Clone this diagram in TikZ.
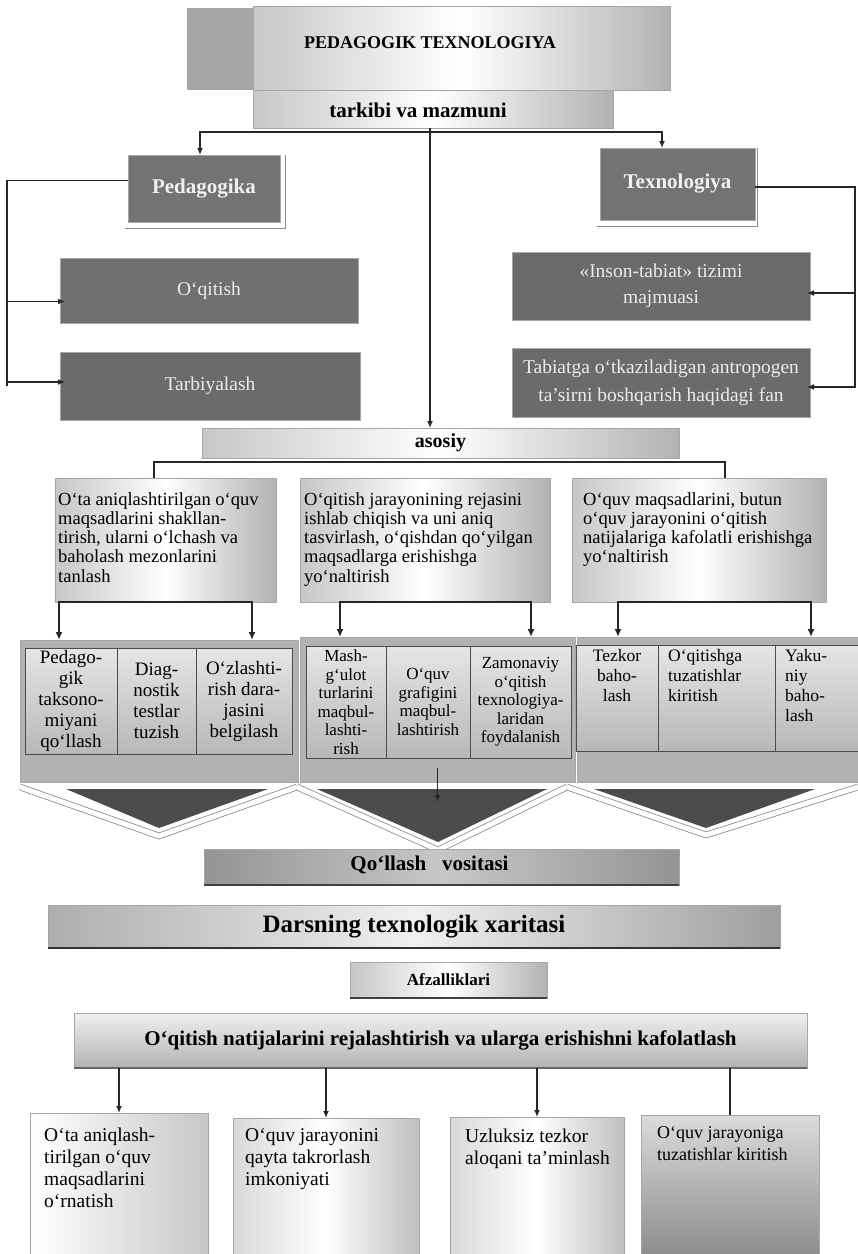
\documentclass[tikz,border=0pt]{standalone}
\usepackage{fontspec}
\setmainfont{Liberation Serif}
\usetikzlibrary{arrows.meta}
\newcommand{\fsz}[2]{\fontsize{#1}{#2}\selectfont}

\begin{document}
\begin{tikzpicture}[x=1pt,y=-1pt,
    box/.style={inner sep=0pt, outer sep=0pt, draw=black!35},
    hshade/.style={left color=black!22, right color=black!30, middle color=white},
    darkbox/.style={box, fill=black!55, text=black!6, font=\bfseries\fsz{21}{24}},
    greybox/.style={box, fill=black!58, text=black!8, align=center, font=\fsz{19.5}{26}},
    txt/.style={anchor=north west, inner sep=0pt, align=left},
    link/.style={draw=black!85, line width=1.5pt},
    arr/.style={link, -{Latex[length=7pt,width=6pt]}},
    arrtwo/.style={link, line width=1.8pt, {Latex[length=8pt,width=7pt]}-{Latex[length=8pt,width=7pt]}},
    cell/.style={draw=black!70, line width=1pt, top color=black!10, bottom color=black!28, inner sep=0pt, align=center},
    grp/.style={box, fill=black!30},
    vband/.style={draw=black!45, line width=0.8pt, double=white, double distance=5pt},
    tri/.style={fill=black!70}
]
    \fill[white] (0,0) rectangle (858,1254);
    \useasboundingbox (0,0) rectangle (858,1254);

    % Title
    \fill[black!35] (187,8) rectangle (256,90);
    \node[box, hshade, minimum width=417pt, minimum height=84pt] (ttl) at (461.5,48) {};
    \node[font=\bfseries\fsz{18}{20}] (ttl-t) at (430,43) {PEDAGOGIK TEXNOLOGIYA};
    \node[box, hshade, minimum width=360pt, minimum height=38pt] (tvm) at (433,109) {};
    \node[font=\bfseries\fsz{21}{24}] (tvm-t) at (418,110) {tarkibi va mazmuni};

    % Pedagogika and Texnologiya
    \node[darkbox, minimum width=152pt, minimum height=67pt] (ped) at (204,188.5) {Pedagogika};
    \node[darkbox, minimum width=155pt, minimum height=72pt] (tex) at (677.5,184) {Texnologiya};
    \draw[black!45] ([xshift=-3pt,yshift=-6pt]ped.south west) -| ([xshift=5pt]ped.north east);
    \draw[black!45] ([xshift=-3pt,yshift=-6pt]tex.south west) -| ([xshift=2pt]tex.north east);

    \node[greybox, fill=black!56, minimum width=298pt, minimum height=65pt] (oqt) at (209,290.5) {O‘qitish};
    \node[greybox, minimum width=300pt, minimum height=68pt] (tar) at (210,386) {Tarbiyalash};
    \node[greybox, minimum width=298pt, minimum height=68pt] (ins) at (661,286) {«Inson-tabiat» tizimi\\majmuasi};
    \node[greybox, font=\fsz{19.5}{28}, minimum width=298pt, minimum height=69pt] (tab) at (661,382.5) {Tabiatga o‘tkaziladigan antropogen\\ta’sirni boshqarish haqidagi fan};

    % Connectors from the title
    \coordinate (j1) at (430,132);
    \draw[link] (tvm.south -| j1) -- (j1);
    \draw[arr] (j1) -| ([xshift=-4pt]ped.north);
    \draw[arr] (j1) -| ([xshift=-15.5pt]tex.north);

    % Side brackets
    \coordinate (lb) at (7,0);
    \coordinate (rb) at (855,0);
    \draw[arr] ([yshift=8pt]ped.west) -| (lb |- tar.west) |- ([xshift=5pt,yshift=4pt]tar.west);
    \draw[arr] (lb |- 0,301.5) -- ([xshift=5pt,yshift=-11pt]oqt.west);
    \draw[arr] ([yshift=-3pt]tex.east) -| (rb |- tab.east) |- ([xshift=-3pt,yshift=-4.5pt]tab.east);
    \draw[arr] (rb |- 0,293) -- ([xshift=-3pt,yshift=-7pt]ins.east);

    % asosiy
    \node[box, hshade, font=\bfseries\fsz{20}{22}, minimum width=477pt, minimum height=30pt] (aso) at (440.5,443) {asosiy};
    \draw[arr] (j1) -- (j1 |- aso.north);

    \node[box, hshade, minimum width=221pt, minimum height=124pt] (maq) at (165.5,540) {};
    \node[box, hshade, minimum width=250pt, minimum height=124pt] (rej) at (425,540) {};
    \node[box, hshade, minimum width=254pt, minimum height=124pt] (kaf) at (699,540) {};
    \node[txt, font=\fsz{18.5}{19.3}] (maq-t) at (58,492) {O‘ta aniqlashtirilgan o‘quv\\maqsadlarini shakllan-\\tirish, ularni o‘lchash va\\baholash mezonlarini\\tanlash};
    \node[txt, font=\fsz{18.5}{19.3}] (rej-t) at (304,492) {O‘qitish jarayonining rejasini\\ishlab chiqish va uni aniq\\tasvirlash, o‘qishdan qo‘yilgan\\maqsadlarga erishishga\\yo‘naltirish};
    \node[txt, font=\fsz{18.5}{19.3}] (kaf-t) at (583,492) {O‘quv maqsadlarini, butun\\o‘quv jarayonini o‘qitish\\natijalariga kafolatli erishishga\\yo‘naltirish};
    \draw[link] ([xshift=-11.5pt]maq.north) |- ([yshift=-4pt]aso.south) -| ([xshift=26pt]kaf.north);

    % Cell groups
    \node[grp, minimum width=278pt, minimum height=142pt] (g1) at (159,711) {};
    \node[grp, minimum width=275pt, minimum height=145pt] (g2) at (437.5,709.5) {};
    \node[grp, minimum width=281pt, minimum height=145pt] (g3) at (717.5,709.5) {};

    \node[cell, font=\fsz{19}{21}, minimum width=92pt, minimum height=106pt] (c11) at (71,701) {Pedago-\\gik\\taksono-\\miyani\\qo‘llash};
    \node[cell, font=\fsz{19}{21}, minimum width=79pt, minimum height=106pt] (c12) at (156.5,701) {Diag-\\nostik\\testlar\\tuzish};
    \node[cell, font=\fsz{19}{21}, minimum width=96pt, minimum height=106pt] (c13) at (244,701) {O‘zlashti-\\rish dara-\\jasini\\belgilash};

    \node[cell, font=\fsz{17}{18.5}, minimum width=80pt, minimum height=112pt] (c21) at (346,702) {Mash-\\g‘ulot\\turlarini\\maqbul-\\lashti-\\rish};
    \node[cell, font=\fsz{17}{18.5}, minimum width=84pt, minimum height=112pt] (c22) at (428,702) {O‘quv\\grafigini\\maqbul-\\lashtirish};
    \node[cell, font=\fsz{17}{18.5}, minimum width=101pt, minimum height=112pt] (c23) at (520.5,702) {Zamonaviy\\o‘qitish\\texnologiya-\\laridan\\foydalanish};

    \node[cell, minimum width=82pt, minimum height=106pt] (c31) at (617,698) {};
    \node[cell, minimum width=117pt, minimum height=106pt] (c32) at (716.5,698) {};
    \node[cell, minimum width=83pt, minimum height=106pt] (c33) at (816.5,698) {};
    \node[txt, anchor=north, align=center, font=\fsz{17.5}{20}] (c31-t) at (617,649) {Tezkor\\baho-\\lash};
    \node[txt, font=\fsz{17.5}{20}] (c32-t) at (668,649) {O‘qitishga\\tuzatishlar\\kiritish};
    \node[txt, font=\fsz{17.5}{20}] (c33-t) at (785,649) {Yaku-\\niy\\baho-\\lash};

    \draw[arrtwo] ([xshift=-100pt]g1.north) |- (maq.south) -| ([xshift=93pt]g1.north);
    \draw[arrtwo] ([xshift=-97.5pt]g2.north) |- (rej.south) -| ([xshift=93.5pt]g2.north);
    \draw[arrtwo] ([xshift=-99.5pt]g3.north) |- (kaf.south) -| ([xshift=93.5pt]g3.north);

    % Chevrons
    \draw[vband] (20,787) -- (159,836) -- (297,787);
    \draw[vband] (297,787) -- (438,850) -- (567,787);
    \draw[vband] (567,787) -- (706,835) -- (858,787);
    \fill[tri] (66,789) -- (268,789) -- (159,828) -- cycle;
    \fill[tri] (317,789) -- (547,789) -- (438,842) -- cycle;
    \fill[tri] (594,789) -- (815,789) -- (706,828) -- cycle;
    \draw[arr, line width=1.2pt] ([yshift=14pt]g2.south) -- ([yshift=-20pt]g2.south);

    % Qo'llash vositasi
    \node[box, left color=black!42, right color=black!42, middle color=black!22, minimum width=475pt, minimum height=36pt] (qov) at (441.5,867) {};
    \node[font=\bfseries\fsz{21}{24}] (qov-t) at (429.5,865) {Qo‘llash~~~vositasi};
    \draw[black!75, line width=1.4pt] (qov.south west) -- (qov.south east);

    % Darsning texnologik xaritasi
    \node[box, left color=black!32, right color=black!38, middle color=black!6, font=\bfseries\fsz{25}{28}, minimum width=732pt, minimum height=43pt] (dtx) at (414,926.5) {Darsning texnologik xaritasi};
    \draw[black!80, line width=1.6pt] (dtx.south west) -- (dtx.south east);

    \node[box, hshade, font=\bfseries\fsz{17}{20}, minimum width=197pt, minimum height=36pt] (afz) at (448.5,980) {Afzalliklari};
    \draw[black!75, line width=1.4pt] (afz.south west) -- (afz.south east);

    \node[box, top color=black!6, bottom color=black!30, font=\bfseries\fsz{21}{24}, minimum width=733pt, minimum height=55pt] (nat) at (440.5,1040.5) {O‘qitish natijalarini rejalashtirish va ularga erishishni kafolatlash};
    \draw[black!60, line width=1.4pt] (nat.south west) -- (nat.south east);

    % Bottom boxes
    \node[box, left color=white, right color=black!22, minimum width=178pt, minimum height=143pt] (bb1) at (119,1184.5) {};
    \node[box, left color=black!15, right color=black!25, middle color=white, minimum width=186pt, minimum height=138pt] (bb2) at (326,1187) {};
    \node[box, left color=black!15, right color=black!25, middle color=white, minimum width=174pt, minimum height=139pt] (bb3) at (537,1186.5) {};
    \node[box, top color=black!14, bottom color=black!45, minimum width=178pt, minimum height=141pt] (bb4) at (730,1185.5) {};
    \node[txt, font=\fsz{19.5}{22}] (bb1-t) at (44,1128) {O‘ta aniqlash-\\tirilgan o‘quv\\maqsadlarini\\o‘rnatish};
    \node[txt, font=\fsz{19.5}{22}] (bb2-t) at (245,1128) {O‘quv jarayonini\\qayta takrorlash\\imkoniyati};
    \node[txt, font=\fsz{19.5}{22}] (bb3-t) at (465,1129) {Uzluksiz tezkor\\aloqani ta’minlash};
    \node[txt, font=\fsz{18}{22}] (bb4-t) at (657,1126) {O‘quv jarayoniga\\tuzatishlar kiritish};

    \foreach \bx in {bb1,bb2,bb3}
        \draw[arr] (nat.south -| \bx.north) -- (\bx.north);
    \draw[link] (nat.south -| bb4.north) -- (bb4.north);

\end{tikzpicture}
\end{document}
